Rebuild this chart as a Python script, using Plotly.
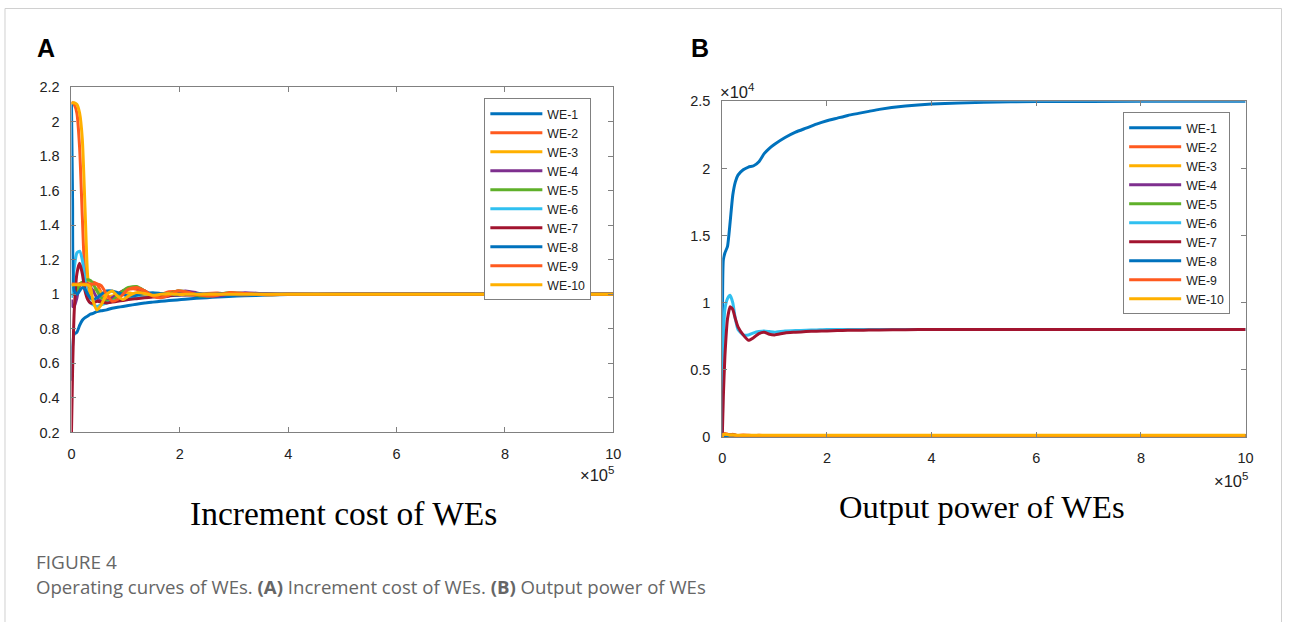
import plotly.graph_objects as go

W, H = 1290, 622

names = ["WE-1", "WE-2", "WE-3", "WE-4", "WE-5", "WE-6", "WE-7", "WE-8", "WE-9", "WE-10"]
colors = ["#0072BD", "#FF5A1F", "#FFB000", "#7E2F8E", "#5FB02A",
          "#30C0F0", "#A2142F", "#0072BD", "#FF5A1F", "#FFB000"]

# ---------------- Panel A: increment cost (x in units of 1e5 iterations)
xa = [0, 0.02, 0.05, 0.1, 0.15, 0.2, 0.25, 0.3, 0.35, 0.4, 0.47, 0.55, 0.65, 0.75, 0.85, 0.95,
      1.05, 1.2, 1.35, 1.5, 1.65, 1.8, 1.95, 2.1, 2.3, 2.5, 2.7, 2.9, 3.2, 3.6, 4.0, 5.0, 6.0, 8.0, 10.0]
a_we1 = [0.50, 0.70, 0.77, 0.78, 0.82, 0.85, 0.865, 0.875, 0.885, 0.89, 0.90, 0.905, 0.91, 0.92, 0.925, 0.93,
         0.935, 0.943, 0.95, 0.955, 0.96, 0.964, 0.968, 0.972, 0.977, 0.981, 0.985, 0.988, 0.992, 0.996, 0.999, 1.0, 1.0, 1.0, 1.0]
a_we2 = [2.10, 2.11, 2.10, 2.05, 1.85, 1.45, 1.10, 1.00, 1.04, 1.07, 1.06, 1.01, 0.97, 0.97, 1.00, 1.02,
         1.03, 1.03, 1.00, 0.99, 1.00, 1.015, 1.015, 1.00, 0.995, 1.005, 1.008, 1.00, 0.998, 1.004, 1.0, 1.0, 1.0, 1.0, 1.0]
a_we3 = [2.10, 2.11, 2.11, 2.10, 2.05, 1.90, 1.50, 1.10, 1.00, 1.02, 1.03, 1.01, 0.99, 0.99, 1.00, 1.01,
         1.01, 1.00, 0.995, 1.00, 1.005, 1.005, 1.00, 0.998, 1.00, 1.002, 1.0, 1.0, 1.0, 1.0, 1.0, 1.0, 1.0, 1.0, 1.0]
a_we4 = [0.97, 0.93, 0.93, 0.98, 1.05, 1.07, 1.07, 1.06, 1.04, 1.02, 0.98, 0.96, 0.96, 0.98, 1.00, 1.02,
         1.035, 1.04, 1.02, 0.995, 0.985, 0.99, 1.01, 1.02, 1.01, 0.995, 0.99, 1.00, 1.01, 1.003, 1.0, 1.0, 1.0, 1.0, 1.0]
a_we5 = [1.00, 1.00, 1.00, 1.02, 1.06, 1.07, 1.08, 1.085, 1.08, 1.06, 1.02, 0.98, 0.96, 0.965, 0.99, 1.02,
         1.04, 1.045, 1.02, 0.99, 0.985, 1.00, 1.02, 1.015, 0.995, 0.99, 1.00, 1.01, 1.005, 0.998, 1.0, 1.0, 1.0, 1.0, 1.0]
a_we6 = [0.98, 1.05, 1.15, 1.24, 1.25, 1.20, 1.08, 0.98, 0.95, 0.94, 0.93, 0.94, 0.95, 0.96, 0.965, 0.97,
         0.975, 0.98, 0.985, 0.99, 0.992, 0.995, 0.997, 0.998, 1.0, 1.0, 1.0, 1.0, 1.0, 1.0, 1.0, 1.0, 1.0, 1.0, 1.0]
a_we7 = [0.20, 0.55, 0.90, 1.12, 1.18, 1.12, 1.02, 0.97, 0.95, 0.95, 0.96, 0.955, 0.95, 0.955, 0.96, 0.965,
         0.97, 0.975, 0.98, 0.985, 0.99, 0.992, 0.995, 0.997, 0.998, 1.0, 1.0, 1.0, 1.0, 1.0, 1.0, 1.0, 1.0, 1.0, 1.0]
a_we8 = [2.10, 1.55, 1.02, 1.00, 1.02, 1.04, 1.03, 1.00, 0.98, 0.97, 0.98, 1.00, 1.02, 1.02, 1.01, 1.00,
         0.99, 0.995, 1.005, 1.01, 1.005, 1.00, 0.997, 1.00, 1.003, 1.0, 1.0, 1.0, 1.0, 1.0, 1.0, 1.0, 1.0, 1.0, 1.0]
a_we9 = [1.06, 1.06, 1.06, 1.06, 1.06, 1.06, 1.06, 1.06, 1.06, 1.06, 1.06, 1.05, 1.00, 0.96, 0.97, 1.00,
         1.03, 1.04, 1.02, 0.99, 0.98, 0.995, 1.02, 1.015, 1.00, 0.99, 0.995, 1.01, 1.005, 0.998, 1.0, 1.0, 1.0, 1.0, 1.0]
a_we10 = [1.05, 1.055, 1.055, 1.055, 1.055, 1.055, 1.055, 1.055, 1.04, 0.96, 0.91, 0.94, 1.00, 1.02, 0.99, 0.97,
          0.99, 1.01, 1.005, 0.995, 1.00, 1.003, 1.0, 1.0, 1.0, 1.0, 1.0, 1.0, 1.0, 1.0, 1.0, 1.0, 1.0, 1.0, 1.0]
panel_a = [a_we1, a_we2, a_we3, a_we4, a_we5, a_we6, a_we7, a_we8, a_we9, a_we10]

# ---------------- Panel B: output power (x in 1e5, y in 1e4)
xb = [0, 0.02, 0.05, 0.1, 0.15, 0.2, 0.25, 0.3, 0.4, 0.5, 0.6, 0.7, 0.8, 0.9, 1.0, 1.2, 1.4, 1.6, 1.8,
      2.0, 2.2, 2.4, 2.6, 2.8, 3.0, 3.5, 4.0, 5.0, 6.0, 8.0, 10.0]
b_we1 = [0.0, 1.32, 1.37, 1.42, 1.60, 1.80, 1.90, 1.95, 1.99, 2.01, 2.02, 2.05, 2.11, 2.15, 2.18, 2.23, 2.27, 2.30, 2.33,
         2.355, 2.375, 2.395, 2.41, 2.425, 2.44, 2.465, 2.48, 2.493, 2.498, 2.50, 2.50]
b_we2 = [0.0, 0.02, 0.025, 0.02, 0.015, 0.02, 0.015, 0.01, 0.015, 0.012, 0.01, 0.012, 0.01, 0.01, 0.01, 0.01, 0.01, 0.01, 0.01,
         0.01, 0.01, 0.01, 0.01, 0.01, 0.01, 0.01, 0.01, 0.01, 0.01, 0.01, 0.01]
b_we3 = [0.0, 0.02, 0.02, 0.015, 0.01, 0.01, 0.01, 0.01, 0.01, 0.01, 0.01, 0.01, 0.01, 0.01, 0.01, 0.01, 0.01, 0.01, 0.01,
         0.01, 0.01, 0.01, 0.01, 0.01, 0.01, 0.01, 0.01, 0.01, 0.01, 0.01, 0.01]
b_we4 = [0.0, -0.01, -0.005, 0.01, 0.015, 0.012, 0.01, 0.01, 0.008, 0.01, 0.01, 0.01, 0.01, 0.01, 0.01, 0.01, 0.01, 0.01, 0.01,
         0.01, 0.01, 0.01, 0.01, 0.01, 0.01, 0.01, 0.01, 0.01, 0.01, 0.01, 0.01]
b_we5 = [0.0, 0.01, 0.01, 0.012, 0.015, 0.015, 0.012, 0.01, 0.008, 0.01, 0.01, 0.01, 0.01, 0.01, 0.01, 0.01, 0.01, 0.01, 0.01,
         0.01, 0.01, 0.01, 0.01, 0.01, 0.01, 0.01, 0.01, 0.01, 0.01, 0.01, 0.01]
b_we6 = [0.0, 0.70, 0.95, 1.03, 1.055, 1.00, 0.88, 0.80, 0.76, 0.76, 0.775, 0.785, 0.79, 0.785, 0.78, 0.79, 0.792, 0.795, 0.797,
         0.80, 0.80, 0.80, 0.80, 0.80, 0.80, 0.80, 0.80, 0.80, 0.80, 0.80, 0.80]
b_we7 = [0.0, 0.30, 0.60, 0.88, 0.97, 0.95, 0.88, 0.82, 0.76, 0.72, 0.74, 0.77, 0.78, 0.765, 0.76, 0.775, 0.78, 0.785, 0.788,
         0.79, 0.792, 0.794, 0.795, 0.796, 0.797, 0.799, 0.80, 0.80, 0.80, 0.80, 0.80]
b_we8 = [0.0, 0.01, 0.01, 0.01, 0.01, 0.01, 0.01, 0.01, 0.01, 0.01, 0.01, 0.01, 0.01, 0.01, 0.01, 0.01, 0.01, 0.01, 0.01,
         0.01, 0.01, 0.01, 0.01, 0.01, 0.01, 0.01, 0.01, 0.01, 0.01, 0.01, 0.01]
b_we9 = [0.0, 0.02, 0.02, 0.02, 0.015, 0.015, 0.012, 0.01, 0.01, 0.01, 0.01, 0.01, 0.01, 0.01, 0.01, 0.01, 0.01, 0.01, 0.01,
         0.01, 0.01, 0.01, 0.01, 0.01, 0.01, 0.01, 0.01, 0.01, 0.01, 0.01, 0.01]
b_we10 = [0.0, 0.02, 0.02, 0.018, 0.015, 0.015, 0.012, 0.012, 0.012, 0.012, 0.012, 0.012, 0.012, 0.012, 0.012, 0.012, 0.012, 0.012, 0.012,
          0.012, 0.012, 0.012, 0.012, 0.012, 0.012, 0.012, 0.012, 0.012, 0.012, 0.012, 0.012]
panel_b = [b_we1, b_we2, b_we3, b_we4, b_we5, b_we6, b_we7, b_we8, b_we9, b_we10]

xticks = [0, 2, 4, 6, 8, 10]
a_yticks = [0.2, 0.4, 0.6, 0.8, 1.0, 1.2, 1.4, 1.6, 1.8, 2.0, 2.2]
a_ytext = ["0.2", "0.4", "0.6", "0.8", "1", "1.2", "1.4", "1.6", "1.8", "2", "2.2"]
b_yticks = [0, 0.5, 1.0, 1.5, 2.0, 2.5]
b_ytext = ["0", "0.5", "1", "1.5", "2", "2.5"]

fig = go.Figure()

for i, (n, c) in enumerate(zip(names, colors)):
    fig.add_trace(go.Scatter(x=xa, y=panel_a[i], name=n, mode="lines",
                             line=dict(color=c, width=3, shape="spline", smoothing=0.6),
                             xaxis="x", yaxis="y", legend="legend"))
for i, (n, c) in enumerate(zip(names, colors)):
    fig.add_trace(go.Scatter(x=xb, y=panel_b[i], name=n, mode="lines",
                             line=dict(color=c, width=3, shape="spline", smoothing=0.5),
                             xaxis="x2", yaxis="y2", legend="legend2"))

# map reference-pixel positions to paper fractions (compensating the page framing seen in the photo)
SX, OX = 0.991, 3.5
SY, OY = 0.971, 8.0

def px(x):
    return min(max((x - OX) / SX / W, 0.0), 1.0)

def py(y):
    return min(max(1 - (y - OY) / SY / H, 0.0), 1.0)

axis_common = dict(showline=True, linecolor="#808080", linewidth=1, mirror="ticks",
                   ticks="inside", ticklen=5, tickcolor="#808080", showgrid=False, zeroline=False,
                   ticklabelstandoff=8,
                   tickfont=dict(family="Liberation Sans, Arial", size=14.5, color="#222222"))

legend_common = dict(xanchor="left", yanchor="top",
                     bgcolor="white", bordercolor="#808080", borderwidth=1,
                     font=dict(family="Liberation Sans, Arial", size=12.3, color="#222222"),
                     tracegroupgap=0, itemwidth=52)

fig.update_layout(
    width=W, height=H, margin=dict(l=0, r=0, t=0, b=0),
    paper_bgcolor="white", plot_bgcolor="white",
    xaxis=dict(domain=[px(71), px(613)], range=[0, 10], tickvals=xticks, anchor="y", **axis_common),
    yaxis=dict(domain=[py(431), py(87)], range=[0.2, 2.2], tickvals=a_yticks, ticktext=a_ytext,
               anchor="x", **axis_common),
    xaxis2=dict(domain=[px(722), px(1245.5)], range=[0, 10], tickvals=xticks, anchor="y2", **axis_common),
    yaxis2=dict(domain=[py(435.5), py(101)], range=[0, 2.5], tickvals=b_yticks, ticktext=b_ytext,
                anchor="x2", **axis_common),
    legend=dict(x=px(484), y=py(98), **legend_common),
    legend2=dict(x=px(1123), y=py(112), **legend_common),
    showlegend=True,
)

ann = []
def text(x, y, t, size, color="#000000", family="Liberation Sans, Arial", xanchor="left", yanchor="middle"):
    ann.append(dict(x=px(x), y=py(y), xref="paper", yref="paper", text=t, showarrow=False,
                    xanchor=xanchor, yanchor=yanchor, borderpad=0,
                    font=dict(size=size, color=color, family=family)))

text(36, 48, "<b>A</b>", 25)
text(690, 48, "<b>B</b>", 25)
text(615, 472, "×10<sup>5</sup>", 16.5, "#222222", xanchor="right")
text(1249, 478, "×10<sup>5</sup>", 16.5, "#222222", xanchor="right")
text(719, 91, "×10<sup>4</sup>", 16.5, "#222222")
text(343, 512, "Increment cost of WEs", 33.5, family="Liberation Serif, Times New Roman", xanchor="center")
text(982, 505, "Output power of WEs", 32.5, family="Liberation Serif, Times New Roman", xanchor="center")
text(35, 560, "FIGURE 4", 19, "#666666", family="Open Sans, Noto Sans")
text(35, 585, "Operating curves of WEs. <b>(A)</b> Increment cost of WEs. <b>(B)</b> Output power of WEs",
     18.6, "#666666", family="Open Sans, Noto Sans")
fig.update_layout(annotations=ann)

fig.add_shape(type="rect", xref="paper", yref="paper",
              x0=px(4) + 0.5 / W, x1=1 - 0.5 / W, y0=-0.2, y1=1 - 0.5 / H,
              line=dict(color="#d0d0d0", width=1), fillcolor="rgba(0,0,0,0)", layer="below")

fig.write_html("out.html")
